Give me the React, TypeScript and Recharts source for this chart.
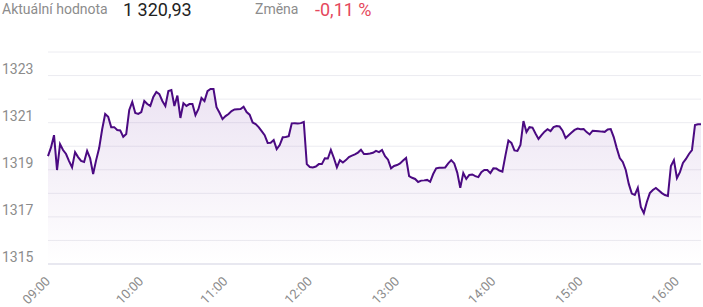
import { Area, AreaChart, CartesianGrid, XAxis, YAxis } from "recharts"

const hourTicks = ["09:00", "10:00", "11:00", "12:00", "13:00", "14:00", "15:00", "16:00"]
const yTicks = [1315, 1316, 1317, 1318, 1319, 1320, 1321, 1322, 1323, 1324]
const yLabels = [1315, 1317, 1319, 1321, 1323]

// index values per hour
const h09 = [
  1319.58, 1319.95, 1320.47, 1318.99, 1320.09, 1319.84, 1319.67, 1319.37, 1319.1, 1319.75,
  1319.54, 1319.38, 1319.33, 1319.8, 1319.49, 1318.82, 1319.41, 1319.92, 1320.72, 1321.37,
  1321.25, 1320.81, 1320.81, 1320.69, 1320.67, 1320.4, 1320.52, 1321.54, 1321.88, 1321.41,
  1321.37,
]
const h10 = [
  1321.45, 1321.92, 1321.79, 1321.71, 1322.09, 1322.3, 1322.21, 1321.92, 1321.71, 1322.34,
  1322.38, 1321.71, 1322.15, 1321.2, 1321.83, 1321.71, 1321.79, 1321.79, 1321.32, 1321.58,
  1322.05, 1321.92, 1322.34, 1322.43, 1322.43, 1321.66, 1321.42, 1321.15,
]
const h11 = [
  1321.28, 1321.37, 1321.49, 1321.56, 1321.57, 1321.58, 1321.68, 1321.45, 1321.34, 1321.01,
  1320.94, 1320.81, 1320.64, 1320.47, 1320.14, 1320.15, 1320.26, 1319.88, 1320.05, 1320.38,
  1320.39, 1320.43, 1320.97, 1320.98, 1320.97, 1320.98, 1321.03, 1319.24,
]
const h12 = [
  1319.12, 1319.1, 1319.14, 1319.24, 1319.24, 1319.49, 1319.48, 1319.84, 1319.5, 1319.1,
  1319.41, 1319.31, 1319.41, 1319.54, 1319.6, 1319.65, 1319.73, 1319.85, 1319.67, 1319.67,
  1319.69, 1319.72, 1319.8, 1319.75, 1319.84, 1319.58, 1319.43, 1319.06, 1319.16,
]
const h13 = [
  1319.2, 1319.27, 1319.39, 1319.5, 1318.73, 1318.66, 1318.61, 1318.48, 1318.54, 1318.55,
  1318.57, 1318.49, 1318.82, 1319.06, 1319.09, 1319.09, 1319.1, 1319.27, 1319.41, 1319.27,
  1318.88, 1318.23, 1318.86, 1318.61, 1318.78, 1318.8, 1318.73, 1318.69, 1318.9, 1318.99,
  1318.99, 1318.86,
]
const h14 = [
  1319.06, 1319.05, 1318.97, 1318.92, 1319.6, 1320.24, 1320.14, 1319.82, 1319.8, 1320.05,
  1321.07, 1320.6, 1320.81, 1320.79, 1320.54, 1320.31, 1320.47, 1320.62, 1320.72, 1320.64,
  1320.81, 1320.86, 1320.84, 1320.66, 1320.35, 1320.47, 1320.58, 1320.69, 1320.75,
]
const h15 = [
  1320.72, 1320.73, 1320.6, 1320.5, 1320.66, 1320.65, 1320.64, 1320.62, 1320.61, 1320.71,
  1320.73, 1320.39, 1319.92, 1319.5, 1319.33, 1318.99, 1318.4, 1317.99, 1317.93, 1318.23,
  1317.42, 1317.16, 1317.63, 1318.01, 1318.14, 1318.23, 1318.12, 1318.01, 1317.93, 1317.89,
  1319.16, 1319.41,
]
const h16 = [1318.65, 1318.9, 1319.29, 1319.46, 1319.67, 1319.84, 1320.9, 1320.93, 1320.93]

const hours = [h09, h10, h11, h12, h13, h14, h15, h16]

const pad = (n: number) => String(n).padStart(2, "0")

const data = hours.flatMap((vals, h) =>
  vals.map((value, i) => ({
    time: `${pad(9 + h)}:${pad(Math.floor((i * 60) / vals.length))}`,
    value,
  }))
)

const gray = "#8c8c8c"
const font = "Roboto, sans-serif"

const XTick = ({ x, y, payload }: any) => {
  const tx = x + 3
  const ty = y + 18
  return (
    <text
      x={tx}
      y={ty}
      transform={`rotate(-45 ${tx} ${ty})`}
      textAnchor="end"
      fill={gray}
      fontSize={13}
      fontFamily={font}
    >
      {payload.value}
    </text>
  )
}

const YTick = ({ y, payload }: any) => {
  if (!yLabels.includes(payload.value)) return <g />
  return (
    <text x={2} y={y - 2} fill={gray} fontSize={14} fontFamily={font}>
      {payload.value}
    </text>
  )
}

export default function App() {
  return (
    <div style={{ position: "relative", width: 703, height: 307, fontFamily: font }}>
      <style>{"body{margin:0}"}</style>
      <span style={{ position: "absolute", left: 2, top: 0, fontSize: 14, lineHeight: "18px", color: gray }}>
        Aktuální hodnota
      </span>
      <span style={{ position: "absolute", left: 123, top: 0, fontSize: 18, lineHeight: "20px", color: "#222" }}>
        1 320,93
      </span>
      <span style={{ position: "absolute", left: 255, top: 0, fontSize: 14, lineHeight: "18px", color: gray }}>
        Změna
      </span>
      <span style={{ position: "absolute", left: 315, top: 0, fontSize: 18, lineHeight: "20px", color: "#e5485c" }}>
        -0,11 %
      </span>
      <AreaChart width={703} height={307} data={data} margin={{ top: 52, right: 2, bottom: 0, left: 0 }}>
        <defs>
          <linearGradient id="fillGrad" x1="0" y1="0" x2="0" y2="1">
            <stop offset="0%" stopColor="#7b3fa8" stopOpacity={0.24} />
            <stop offset="100%" stopColor="#7b3fa8" stopOpacity={0} />
          </linearGradient>
        </defs>
        <CartesianGrid vertical={false} stroke="#ececf1" />
        <XAxis
          dataKey="time"
          ticks={hourTicks}
          interval={0}
          height={43}
          tickLine={false}
          tickSize={0}
          tickMargin={0}
          axisLine={{ stroke: "#e8e8f0", strokeWidth: 2 }}
          tick={<XTick />}
        />
        <YAxis
          type="number"
          domain={[1315, 1324]}
          ticks={yTicks}
          tickCount={10}
          interval={0}
          width={48}
          axisLine={false}
          tickLine={false}
          tick={<YTick />}
        />
        <Area
          type="linear"
          dataKey="value"
          stroke="#4b0a82"
          strokeWidth={2}
          fill="url(#fillGrad)"
          dot={false}
          activeDot={false}
          isAnimationActive={false}
        />
      </AreaChart>
    </div>
  )
}
